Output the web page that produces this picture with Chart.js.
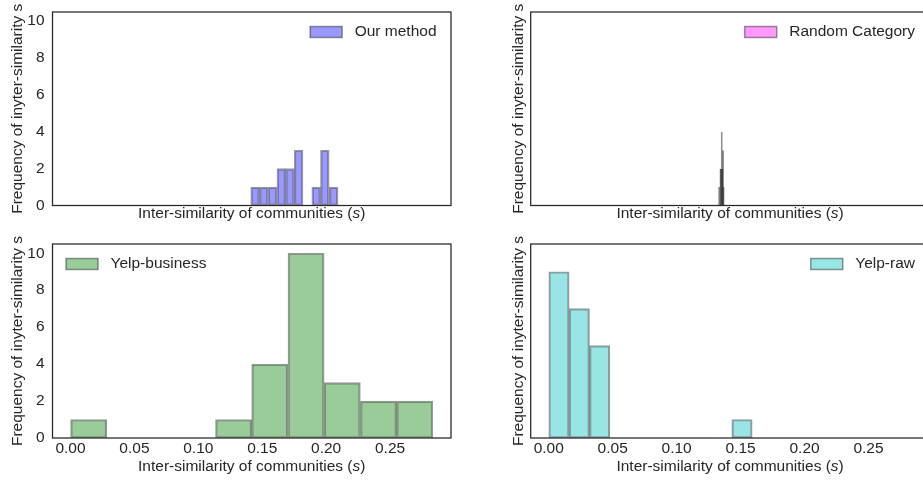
<!DOCTYPE html>
<html>
<head>
<meta charset="utf-8">
<script src="https://cdn.jsdelivr.net/npm/chart.js@4.4.1/dist/chart.umd.min.js"></script>
<style>
  html, body { margin: 0; padding: 0; background: #fff; overflow: hidden; width: 923px; height: 483px; }
  canvas { position: absolute; }
</style>
</head>
<body>
<canvas id="c1" width="470" height="230" style="left:0;top:0"></canvas>
<canvas id="c2" width="450" height="230" style="left:490px;top:0"></canvas>
<canvas id="c3" width="470" height="253" style="left:0;top:230px"></canvas>
<canvas id="c4" width="450" height="253" style="left:490px;top:230px"></canvas>
<script>
// histogram bin centres and counts
const ourCenters = [0.1444, 0.1512, 0.1581, 0.1649, 0.1717, 0.1785, 0.1854, 0.1922, 0.1990, 0.2059];
const ourCounts  = [1, 1, 1, 2, 2, 3, 0, 1, 3, 1];

const randCenters = [0.13275, 0.13325, 0.13375, 0.13425, 0.13475, 0.13525, 0.13575, 0.13625, 0.13675, 0.13725];
const randCounts  = [0, 1, 0, 2, 2, 4, 2, 3, 1, 0];

const bizCenters = [0.0142, 0.0425, 0.0709, 0.0992, 0.1276, 0.1559, 0.1843, 0.2126, 0.2410, 0.2693];
const bizCounts  = [1, 0, 0, 0, 1, 4, 10, 3, 2, 2];

const rawCenters = [0.0080, 0.0239, 0.0398, 0.0557, 0.0716, 0.0875, 0.1034, 0.1193, 0.1352, 0.1511];
const rawCounts  = [9, 7, 5, 0, 0, 0, 0, 0, 0, 1];

const xTicks = [0.00, 0.05, 0.10, 0.15, 0.20, 0.25];
const yTicks = [0, 2, 4, 6, 8, 10];

const X_MIN = -0.0141, X_MAX = 0.2977, Y_MAX = 10.5;
const TEXT = '#262626';
const FONT = "'Liberation Sans', Arial, sans-serif";
Chart.defaults.font.family = FONT;
Chart.defaults.font.size = 15.5;
Chart.defaults.color = TEXT;

// frame, x label with italic s, and an in-axes legend
const decor = {
  id: 'decor',
  afterDraw(chart, args, o) {
    const { ctx, chartArea: a } = chart;
    ctx.save();
    ctx.strokeStyle = TEXT;
    ctx.lineWidth = 1.25;
    ctx.strokeRect(a.left, a.top, a.right - a.left, a.bottom - a.top);

    // x label
    const p1 = 'Inter-similarity of communities (', p2 = 's', p3 = ')';
    const normal = '15.5px ' + FONT, italic = 'italic 15.5px ' + FONT;
    ctx.font = normal;
    const w1 = ctx.measureText(p1).width, w3 = ctx.measureText(p3).width;
    ctx.font = italic;
    const w2 = ctx.measureText(p2).width;
    let x = (a.left + a.right) / 2 - (w1 + w2 + w3) / 2;
    const y = a.bottom + o.xLabelGap;
    ctx.fillStyle = TEXT;
    ctx.textBaseline = 'middle';
    ctx.textAlign = 'left';
    ctx.font = normal; ctx.fillText(p1, x, y); x += w1;
    ctx.font = italic; ctx.fillText(p2, x, y); x += w2;
    ctx.font = normal; ctx.fillText(p3, x, y);

    // legend
    ctx.font = normal;
    const tw = ctx.measureText(o.label).width;
    const ly = a.top + 20;
    let tx;
    if (o.legendSide === 'right') tx = a.right - 14.5 - tw;
    else tx = a.left + 58;
    const sx = tx - 12.5 - 32;
    ctx.fillStyle = o.swatch;
    ctx.fillRect(sx, ly - 5.5, 32, 11);
    ctx.strokeStyle = 'rgba(0,0,0,0.4)';
    ctx.lineWidth = 1.5;
    ctx.strokeRect(sx, ly - 5.5, 32, 11);
    ctx.fillStyle = TEXT;
    ctx.fillText(o.label, tx, ly);
    ctx.restore();
  }
};

function makeChart(p) {
  const data = p.centers.map((c, i) => ({ x: c, y: p.counts[i] }));
  new Chart(document.getElementById(p.id), {
    type: 'bar',
    data: {
      datasets: [{
        label: p.label,
        data: data,
        backgroundColor: p.fill,
        borderColor: p.edge,
        borderWidth: p.edgeWidth,
        borderSkipped: false,
        barPercentage: p.barPct,
        categoryPercentage: 1
      }]
    },
    options: {
      responsive: false,
      animation: false,
      layout: { padding: { top: p.padTop, right: p.padRight, bottom: 0, left: 0 } },
      plugins: {
        legend: { display: false },
        tooltip: { enabled: false },
        decor: { label: p.label, swatch: p.swatch, legendSide: p.legendSide, xLabelGap: p.xLabelGap }
      },
      scales: {
        x: {
          type: 'linear',
          min: X_MIN, max: X_MAX,
          offset: false,
          grid: { display: false, drawTicks: false },
          border: { display: false },
          afterBuildTicks: s => { s.ticks = xTicks.map(v => ({ value: v })); },
          ticks: {
            display: p.showX,
            padding: 1,
            color: TEXT,
            maxRotation: 0,
            autoSkip: false,
            callback: v => v.toFixed(2)
          },
          afterFit: s => { s.height = p.xHeight; s.paddingLeft = 0; s.paddingRight = 0; }
        },
        y: {
          min: 0, max: Y_MAX,
          grid: { display: false, drawTicks: false },
          border: { display: false },
          afterBuildTicks: s => { s.ticks = yTicks.map(v => ({ value: v })); },
          ticks: { display: p.showY, padding: 8, color: TEXT },
          title: {
            display: true,
            text: 'Frequency of inyter-similarity s',
            color: TEXT,
            padding: { top: p.yTitlePad, bottom: 0 }
          },
          afterFit: s => { s.width = p.yWidth; s.paddingTop = 0; s.paddingBottom = 0; }
        }
      }
    },
    plugins: [decor]
  });
}

const edge = 'rgba(0,0,0,0.4)';
makeChart({ id: 'c1', label: 'Our method', centers: ourCenters, counts: ourCounts,
  fill: 'rgba(0,0,255,0.4)', swatch: 'rgba(0,0,255,0.4)', edge: edge, edgeWidth: 1.5, barPct: 1,
  padTop: 12, padRight: 19, xHeight: 24.5, yWidth: 52.5, yTitlePad: 8.2,
  showX: false, showY: true, legendSide: 'right', xLabelGap: 8.5 });
makeChart({ id: 'c2', label: 'Random Category', centers: randCenters, counts: randCounts,
  fill: 'rgba(255,0,255,0.4)', swatch: 'rgba(255,0,255,0.4)', edge: 'rgba(0,0,0,0.45)', edgeWidth: 1, barPct: 3,
  padTop: 12, padRight: 10.5, xHeight: 24.5, yWidth: 40.7, yTitlePad: 19.7,
  showX: false, showY: false, legendSide: 'right', xLabelGap: 8.5 });
makeChart({ id: 'c3', label: 'Yelp-business', centers: bizCenters, counts: bizCounts,
  fill: 'rgba(0,128,0,0.4)', swatch: 'rgba(0,128,0,0.4)', edge: edge, edgeWidth: 1.5, barPct: 1,
  padTop: 14, padRight: 19, xHeight: 45, yWidth: 52.5, yTitlePad: 8.2,
  showX: true, showY: true, legendSide: 'left', xLabelGap: 29 });
makeChart({ id: 'c4', label: 'Yelp-raw', centers: rawCenters, counts: rawCounts,
  fill: 'rgba(0,191,191,0.4)', swatch: 'rgba(0,191,191,0.4)', edge: edge, edgeWidth: 1.5, barPct: 1,
  padTop: 14, padRight: 10.5, xHeight: 45, yWidth: 40.7, yTitlePad: 19.7,
  showX: true, showY: false, legendSide: 'right', xLabelGap: 29 });
</script>
</body>
</html>
